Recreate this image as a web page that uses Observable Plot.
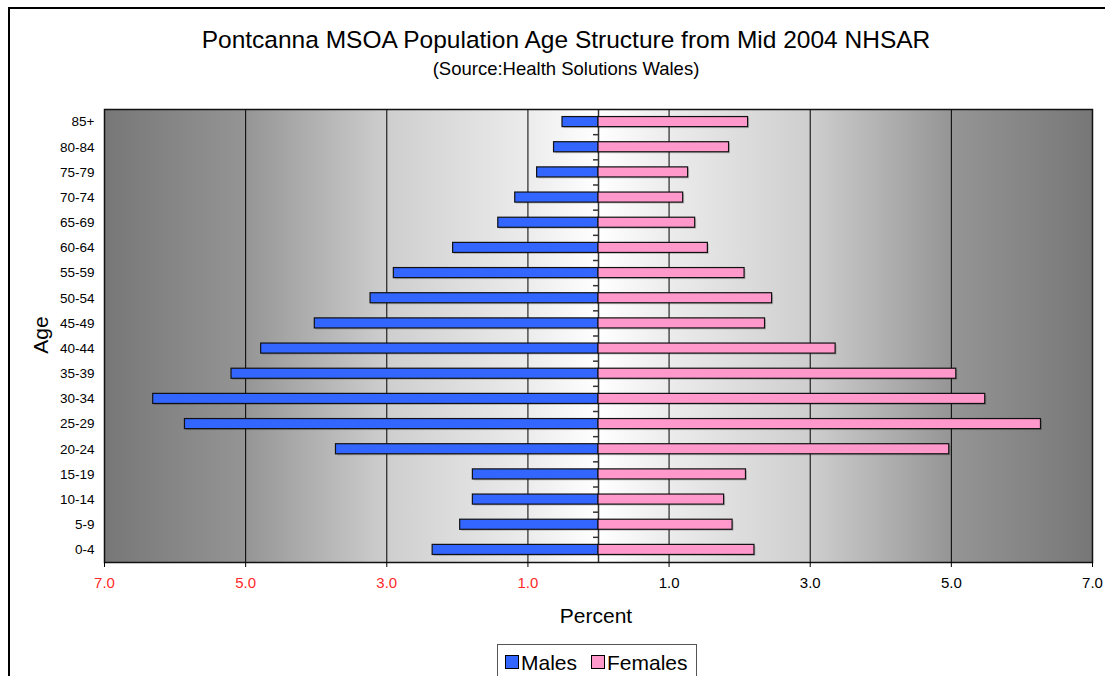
<!DOCTYPE html>
<html><head><meta charset="utf-8">
<script src="https://cdn.jsdelivr.net/npm/d3@7"></script>
<script src="https://cdn.jsdelivr.net/npm/@observablehq/plot@0.6"></script>
<style>
body{margin:0;background:#fff;font-family:"Liberation Sans",Arial,sans-serif;color:#000;}
#wrap{position:relative;width:1105px;height:676px;overflow:hidden;background:#fff;}
#border{position:absolute;left:8px;top:7px;width:1300px;height:900px;border:2px solid #000;box-sizing:border-box;}
.ctr{position:absolute;left:0;width:1132px;text-align:center;line-height:1;white-space:nowrap;}
#title{top:28px;font-size:24.5px;}
#subtitle{top:60px;font-size:18.5px;}
#chart{position:absolute;left:0;top:95px;}
#ylab{position:absolute;left:40px;top:335px;font-size:21px;line-height:1;transform:translate(-50%,-50%) rotate(-90deg);}
#xlab{position:absolute;left:596px;top:605px;font-size:21px;line-height:1;transform:translateX(-50%);}
#legend{position:absolute;left:497px;top:644px;width:200px;height:60px;border:1px solid #555;box-sizing:border-box;background:#fff;}
.sw{position:absolute;top:10px;width:12px;height:12px;border:1px solid #000;}
.lt{position:absolute;top:7px;font-size:21px;line-height:1;}
</style>
</head><body>
<div id="wrap">
  <div id="border"></div>
  <div id="title" class="ctr">Pontcanna MSOA Population Age Structure from Mid 2004 NHSAR</div>
  <div id="subtitle" class="ctr">(Source:Health Solutions Wales)</div>
  <div id="chart"></div>
  <div id="ylab">Age</div>
  <div id="xlab">Percent</div>
  <div id="legend"></div>
</div>
<script>
const ages = ["0-4","5-9","10-14","15-19","20-24","25-29","30-34","35-39","40-44","45-49","50-54","55-59","60-64","65-69","70-74","75-79","80-84","85+"];
const males = [2.35,1.96,1.78,1.78,3.72,5.86,6.31,5.20,4.78,4.02,3.23,2.90,2.06,1.42,1.18,0.87,0.63,0.51];
const females = [2.21,1.90,1.78,2.09,4.97,6.27,5.48,5.07,3.36,2.36,2.46,2.07,1.55,1.37,1.20,1.27,1.85,2.12];
const xTicks = [-7,-5,-3,-1,1,3,5,7];
const seriesNames = ["Males","Females"];
const seriesColors = ["#3366ff","#ff99cc"];

const rows = ages.map((a,i)=>({i, age:a, male:males[i], female:females[i]}));
const boundaries = d3.range(ages.length-1).map(i=>i+0.5);
const half = 0.2;

const fmt = d => Math.abs(d).toFixed(1);

const svg = Plot.plot({
  width: 1105,
  height: 500,
  marginLeft: 104,
  marginRight: 13,
  marginTop: 14,
  marginBottom: 33,
  style: {fontFamily: '"Liberation Sans", Arial, sans-serif', fontSize: "13px", background: "transparent", color: "#000", overflow: "visible"},
  x: {domain: [-7, 7]},
  y: {domain: [-0.5, ages.length - 0.5]},
  marks: [
    Plot.frame({fill: "url(#bgGrad)", stroke: "none"}),
    Plot.ruleX(xTicks.filter(d => Math.abs(d) < 7), {stroke: "#000", strokeWidth: 1}),
    Plot.ruleX([0], {stroke: "#333", strokeWidth: 1.5}),
    Plot.ruleY(boundaries, {x1: 0, x2: 0, insetLeft: -5, stroke: "#333", strokeWidth: 1.5}),
    Plot.rectX(rows, {x1: 0, x2: d => -d.male, y1: d => d.i - half, y2: d => d.i + half, fill: "#000", fillOpacity: 0.18, dx: 1.5, dy: 1.5}),
    Plot.rectX(rows, {x1: 0, x2: d => d.female, y1: d => d.i - half, y2: d => d.i + half, fill: "#000", fillOpacity: 0.18, dx: 1.5, dy: 1.5}),
    Plot.rectX(rows, {x1: 0, x2: d => -d.male, y1: d => d.i - half, y2: d => d.i + half, fill: seriesColors[0], stroke: "#111", strokeWidth: 1.2}),
    Plot.rectX(rows, {x1: 0, x2: d => d.female, y1: d => d.i - half, y2: d => d.i + half, fill: seriesColors[1], stroke: "#111", strokeWidth: 1.2}),
    Plot.frame({stroke: "#111", strokeWidth: 1.5}),
    Plot.axisX(xTicks.filter(d => d < 0), {tickSize: 5, tickPadding: 10, tickFormat: fmt, fill: "#ff2a2a", stroke: "#000", fontSize: 15, label: null}),
    Plot.axisX(xTicks.filter(d => d > 0), {tickSize: 5, tickPadding: 10, tickFormat: fmt, fill: "#000", stroke: "#000", fontSize: 15, label: null}),
    Plot.axisY(d3.range(ages.length), {tickSize: 0, tickPadding: 10, tickFormat: i => ages[i], fontSize: 13.5, label: null})
  ]
});

const defs = d3.select(svg).insert("defs", ":first-child");
const g = defs.append("linearGradient").attr("id", "bgGrad").attr("x1", 0).attr("x2", 1).attr("y1", 0).attr("y2", 0);
[[0,"#777777"],[0.143,"#959595"],[0.285,"#cecece"],[0.43,"#ececec"],[0.5,"#ffffff"],
 [0.57,"#ececec"],[0.715,"#cecece"],[0.857,"#959595"],[1,"#777777"]].forEach(([o,c]) =>
  g.append("stop").attr("offset", o).attr("stop-color", c));

document.getElementById("chart").appendChild(svg);

const leg = document.getElementById("legend");
const pos = [[7, 23], [93, 109]];
seriesNames.forEach((n, k) => {
  const sw = document.createElement("div");
  sw.className = "sw"; sw.style.left = pos[k][0] + "px"; sw.style.background = seriesColors[k];
  const t = document.createElement("div");
  t.className = "lt"; t.style.left = pos[k][1] + "px"; t.textContent = n;
  leg.appendChild(sw); leg.appendChild(t);
});
</script>
</body></html>
